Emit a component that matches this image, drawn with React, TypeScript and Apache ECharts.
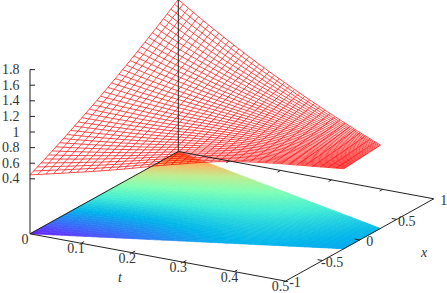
import React, { useEffect, useRef } from "react";
import * as echarts from "echarts";

const N = 40;
const tGrid = [0,.0125,.025,.0375,.05,.0625,.075,.0875,.1,.1125,.125,.1375,.15,.1625,.175,.1875,.2,.2125,.225,.2375,.25,.2625,.275,.2875,.3,.3125,.325,.3375,.35,.3625,.375,.3875,.4,.4125,.425,.4375,.45,.4625,.475,.4875,.5];
const xLow = [-1,-.98,-.961,-.941,-.921,-.902,-.882,-.862,-.843,-.823,-.803,-.784,-.764,-.744,-.725,-.705,-.686,-.666,-.646,-.627,-.607,-.587,-.568,-.548,-.528,-.509,-.489,-.47,-.45,-.43,-.411,-.391,-.371,-.352,-.332,-.312,-.293,-.273,-.253,-.234,-.214];
const xHigh = [1,.982,.964,.946,.928,.91,.892,.874,.856,.838,.82,.802,.784,.766,.748,.73,.712,.694,.676,.658,.641,.623,.605,.587,.569,.551,.533,.515,.497,.479,.461,.443,.425,.407,.389,.371,.353,.335,.317,.299,.281];
const Z = [
[.451,.475,.499,.524,.549,.574,.599,.625,.651,.678,.704,.731,.759,.786,.814,.842,.871,.899,.928,.958,.988,1.017,1.048,1.078,1.109,1.14,1.172,1.204,1.236,1.268,1.301,1.334,1.367,1.401,1.434,1.469,1.503,1.538,1.573,1.608,1.644],
[.46,.483,.507,.531,.555,.579,.603,.628,.654,.679,.704,.731,.758,.784,.811,.838,.866,.894,.922,.95,.978,1.008,1.037,1.067,1.096,1.126,1.157,1.188,1.219,1.25,1.281,1.313,1.346,1.378,1.411,1.443,1.477,1.511,1.545,1.579,1.613],
[.47,.493,.516,.538,.561,.584,.608,.632,.657,.681,.705,.731,.757,.782,.808,.834,.861,.888,.915,.942,.969,.998,1.026,1.055,1.083,1.112,1.142,1.172,1.201,1.231,1.261,1.293,1.324,1.355,1.387,1.418,1.451,1.484,1.516,1.549,1.582],
[.48,.502,.524,.546,.568,.59,.613,.636,.66,.683,.706,.731,.756,.781,.805,.83,.856,.882,.908,.935,.961,.988,1.016,1.043,1.071,1.098,1.127,1.156,1.185,1.214,1.242,1.273,1.303,1.333,1.364,1.394,1.425,1.457,1.489,1.52,1.552],
[.49,.511,.532,.553,.574,.595,.618,.64,.663,.685,.708,.731,.755,.779,.803,.826,.852,.877,.902,.927,.952,.979,1.005,1.032,1.058,1.084,1.112,1.14,1.168,1.196,1.224,1.253,1.282,1.311,1.34,1.369,1.4,1.43,1.461,1.491,1.522],
[.501,.521,.541,.562,.582,.602,.624,.645,.667,.688,.71,.732,.755,.778,.801,.824,.848,.872,.896,.92,.945,.97,.995,1.021,1.046,1.072,1.099,1.125,1.152,1.179,1.206,1.234,1.262,1.29,1.318,1.346,1.375,1.405,1.434,1.464,1.493],
[.512,.531,.551,.57,.59,.609,.63,.65,.671,.691,.712,.734,.756,.778,.8,.822,.845,.868,.891,.914,.938,.962,.987,1.011,1.035,1.06,1.086,1.111,1.137,1.163,1.189,1.216,1.243,1.27,1.297,1.324,1.352,1.38,1.409,1.437,1.465],
[.522,.541,.559,.578,.596,.615,.634,.654,.674,.694,.714,.735,.756,.777,.798,.819,.841,.863,.886,.908,.93,.954,.977,1.001,1.024,1.048,1.072,1.097,1.122,1.146,1.171,1.197,1.223,1.249,1.275,1.301,1.328,1.355,1.383,1.41,1.437],
[.533,.551,.568,.586,.604,.622,.641,.66,.679,.697,.716,.736,.756,.777,.797,.817,.838,.86,.881,.902,.924,.946,.969,.991,1.014,1.036,1.06,1.084,1.107,1.131,1.155,1.18,1.205,1.23,1.254,1.279,1.305,1.332,1.358,1.384,1.41],
[.545,.562,.579,.596,.613,.63,.648,.666,.684,.702,.72,.739,.758,.777,.797,.816,.836,.857,.877,.897,.918,.939,.961,.982,1.004,1.025,1.048,1.071,1.093,1.116,1.139,1.162,1.186,1.21,1.234,1.258,1.283,1.308,1.333,1.358,1.383],
[.557,.573,.589,.605,.621,.637,.654,.672,.689,.706,.723,.742,.76,.778,.797,.815,.834,.854,.873,.893,.912,.933,.953,.974,.994,1.015,1.037,1.058,1.08,1.102,1.123,1.146,1.169,1.192,1.214,1.237,1.261,1.285,1.309,1.333,1.357],
[.57,.585,.6,.616,.631,.646,.662,.679,.695,.711,.728,.745,.763,.78,.797,.815,.833,.852,.87,.889,.907,.927,.946,.966,.985,1.005,1.026,1.046,1.067,1.088,1.108,1.13,1.152,1.174,1.195,1.217,1.24,1.263,1.285,1.308,1.331],
[.583,.597,.612,.626,.641,.655,.67,.686,.701,.717,.732,.749,.765,.782,.798,.814,.832,.849,.867,.884,.902,.921,.939,.958,.976,.995,1.015,1.034,1.054,1.073,1.093,1.114,1.134,1.155,1.176,1.196,1.218,1.24,1.262,1.283,1.305],
[.597,.611,.624,.638,.651,.665,.679,.694,.708,.723,.737,.753,.768,.784,.8,.815,.832,.848,.865,.881,.898,.916,.933,.951,.968,.986,1.005,1.023,1.042,1.06,1.079,1.099,1.118,1.138,1.157,1.177,1.198,1.218,1.239,1.259,1.28],
[.612,.625,.637,.65,.663,.675,.689,.703,.716,.73,.744,.758,.773,.788,.802,.817,.833,.848,.864,.879,.895,.912,.928,.945,.961,.978,.996,1.013,1.031,1.048,1.066,1.084,1.103,1.121,1.14,1.158,1.178,1.197,1.217,1.236,1.256],
[.627,.639,.651,.663,.674,.686,.699,.712,.725,.737,.75,.764,.778,.791,.805,.819,.834,.848,.863,.877,.892,.908,.923,.939,.954,.97,.987,1.003,1.02,1.036,1.053,1.07,1.088,1.105,1.123,1.14,1.158,1.177,1.195,1.214,1.232],
[.643,.654,.665,.676,.687,.698,.71,.722,.734,.746,.758,.77,.783,.796,.809,.822,.835,.849,.863,.876,.89,.905,.919,.934,.948,.963,.979,.994,1.01,1.025,1.041,1.057,1.073,1.09,1.106,1.123,1.14,1.157,1.175,1.192,1.209],
[.655,.665,.676,.686,.696,.706,.717,.728,.74,.751,.762,.774,.786,.798,.81,.822,.835,.847,.86,.873,.886,.9,.913,.927,.941,.955,.969,.984,.998,1.013,1.027,1.043,1.058,1.074,1.089,1.105,1.121,1.137,1.154,1.17,1.186],
[.668,.678,.687,.697,.706,.716,.726,.736,.747,.757,.767,.778,.789,.8,.812,.823,.835,.847,.859,.871,.883,.895,.908,.921,.934,.947,.96,.974,.987,1.001,1.015,1.029,1.043,1.058,1.072,1.087,1.102,1.117,1.133,1.148,1.163],
[.68,.689,.698,.706,.715,.724,.733,.743,.753,.762,.772,.782,.792,.803,.813,.823,.835,.846,.857,.868,.879,.891,.903,.915,.927,.939,.951,.964,.977,.989,1.002,1.016,1.029,1.043,1.056,1.07,1.084,1.098,1.113,1.127,1.141],
[.693,.701,.709,.717,.725,.733,.742,.751,.76,.768,.777,.787,.796,.806,.815,.825,.835,.845,.856,.866,.876,.887,.898,.909,.92,.931,.943,.955,.966,.978,.99,1.003,1.015,1.028,1.04,1.053,1.066,1.079,1.093,1.106,1.119],
[.705,.712,.72,.727,.734,.742,.75,.758,.766,.774,.782,.791,.799,.808,.817,.826,.835,.845,.854,.864,.873,.883,.893,.904,.914,.924,.935,.946,.957,.967,.978,.99,1.002,1.013,1.025,1.036,1.049,1.061,1.073,1.086,1.098],
[.716,.723,.729,.736,.743,.749,.757,.764,.771,.779,.786,.794,.802,.81,.818,.826,.835,.844,.852,.861,.87,.879,.888,.898,.907,.916,.926,.936,.946,.956,.967,.977,.988,.999,1.009,1.02,1.031,1.043,1.054,1.066,1.077],
[.726,.732,.738,.744,.75,.756,.763,.77,.776,.783,.789,.797,.804,.811,.819,.826,.834,.842,.85,.858,.866,.874,.883,.891,.9,.908,.918,.927,.936,.945,.954,.964,.974,.984,.994,1.004,1.014,1.025,1.035,1.046,1.056],
[.735,.74,.746,.751,.757,.762,.768,.774,.78,.786,.792,.799,.805,.812,.819,.825,.833,.84,.847,.854,.862,.869,.877,.885,.893,.901,.909,.918,.926,.934,.943,.952,.961,.97,.979,.988,.998,1.007,1.017,1.026,1.036],
[.74,.745,.75,.755,.76,.765,.77,.776,.781,.787,.792,.798,.804,.81,.816,.822,.829,.836,.842,.849,.856,.863,.87,.877,.884,.891,.899,.907,.915,.922,.93,.938,.947,.955,.963,.972,.981,.989,.998,1.007,1.016],
[.745,.749,.754,.758,.763,.767,.772,.777,.782,.787,.792,.798,.803,.809,.814,.82,.826,.832,.838,.844,.85,.857,.863,.87,.876,.883,.89,.897,.904,.911,.918,.926,.933,.941,.949,.956,.964,.973,.981,.989,.997],
[.748,.752,.756,.76,.764,.768,.773,.777,.782,.786,.791,.796,.801,.806,.811,.816,.822,.827,.833,.838,.844,.849,.855,.861,.867,.874,.88,.887,.893,.9,.906,.913,.92,.927,.934,.941,.948,.956,.963,.971,.978],
[.75,.754,.757,.761,.765,.768,.773,.777,.781,.785,.789,.794,.798,.803,.807,.812,.817,.822,.827,.832,.837,.843,.848,.854,.859,.864,.87,.876,.882,.888,.894,.9,.907,.913,.92,.926,.933,.94,.946,.953,.96],
[.75,.753,.757,.76,.763,.767,.77,.774,.778,.782,.785,.79,.794,.798,.802,.806,.811,.815,.82,.824,.829,.834,.839,.844,.849,.854,.859,.865,.87,.875,.881,.887,.893,.898,.904,.91,.916,.922,.929,.935,.941],
[.75,.753,.756,.759,.762,.765,.768,.772,.775,.779,.782,.786,.79,.793,.797,.801,.805,.809,.813,.817,.822,.826,.831,.835,.84,.844,.849,.854,.859,.864,.869,.874,.879,.885,.89,.895,.9,.906,.912,.917,.923],
[.749,.752,.754,.757,.76,.763,.766,.769,.772,.775,.778,.782,.785,.788,.792,.795,.799,.803,.807,.81,.814,.818,.822,.826,.83,.834,.839,.843,.848,.852,.857,.861,.866,.871,.876,.881,.886,.891,.896,.901,.906],
[.747,.75,.752,.755,.757,.76,.762,.765,.768,.771,.774,.777,.78,.783,.786,.789,.792,.796,.799,.803,.806,.81,.813,.817,.821,.825,.829,.833,.837,.841,.845,.849,.853,.857,.862,.866,.871,.875,.88,.884,.889],
[.744,.746,.749,.751,.753,.755,.758,.76,.763,.765,.768,.771,.774,.776,.779,.782,.785,.788,.791,.794,.798,.801,.804,.808,.811,.814,.818,.821,.825,.829,.832,.836,.84,.844,.848,.851,.856,.86,.864,.868,.872],
[.74,.742,.744,.746,.748,.75,.753,.755,.757,.76,.762,.765,.767,.77,.772,.775,.777,.78,.783,.786,.789,.791,.794,.797,.8,.803,.807,.81,.813,.816,.82,.823,.826,.83,.833,.837,.84,.844,.848,.851,.855],
[.737,.739,.741,.743,.745,.747,.749,.751,.753,.755,.757,.759,.761,.764,.766,.768,.771,.773,.776,.778,.781,.783,.786,.788,.791,.794,.797,.799,.802,.805,.808,.811,.814,.817,.82,.823,.826,.829,.833,.836,.839],
[.733,.735,.736,.738,.74,.742,.744,.745,.747,.749,.751,.753,.755,.757,.759,.761,.763,.766,.768,.77,.772,.774,.777,.779,.781,.784,.786,.789,.791,.794,.796,.799,.801,.804,.807,.809,.812,.815,.817,.82,.823],
[.73,.732,.733,.735,.736,.738,.739,.741,.743,.744,.746,.748,.75,.751,.753,.755,.757,.759,.76,.762,.764,.766,.768,.77,.772,.774,.776,.778,.78,.782,.784,.787,.789,.791,.793,.795,.798,.8,.802,.805,.807],
[.727,.728,.73,.731,.732,.734,.735,.737,.738,.74,.741,.743,.744,.746,.747,.749,.75,.752,.753,.755,.757,.758,.76,.761,.763,.765,.767,.768,.77,.772,.774,.775,.777,.779,.781,.783,.785,.786,.788,.79,.792],
[.724,.725,.726,.728,.729,.73,.731,.733,.734,.735,.736,.738,.739,.74,.741,.743,.744,.745,.746,.748,.749,.75,.752,.753,.754,.756,.757,.758,.76,.761,.763,.764,.765,.767,.768,.77,.771,.773,.774,.776,.777],
[.721,.722,.723,.724,.725,.726,.727,.728,.729,.73,.731,.732,.733,.734,.735,.736,.737,.738,.739,.74,.742,.743,.744,.745,.746,.747,.748,.749,.75,.751,.752,.753,.754,.755,.756,.757,.758,.759,.76,.761,.762],
];
const zTicks = [0.4,0.6,0.8,1,1.2,1.4,1.6,1.8];
const tTicks = [0,0.1,0.2,0.3,0.4,0.5];
const xTicks = [-1,-0.5,0,0.5,1];
const palette = ["#8000ff","#4062fa","#00b4eb","#40ecd4","#80ffb4","#bfec8e","#ffb462","#ff6232","#ff0000"];
const zBase = -0.305;

function project(t: number, x: number, z: number): [number, number] {
  return [30 + (t / 0.5) * 255.5 + ((x + 1) / 2) * 148.3, 233.8 + (t / 0.5) * 47.3 - ((x + 1) / 2) * 82.3 - (z - zBase) * 78];
}
const xAt = (i: number, j: number) => xLow[i] + ((xHigh[i] - xLow[i]) * j) / N;

type Seg = { a: [number, number]; b: [number, number] };
type Lab = { p: [number, number]; s: string; align?: string; italic?: boolean };

export default function App() {
  const ref = useRef<HTMLDivElement>(null);
  useEffect(() => {
    const chart = echarts.init(ref.current!, undefined, { renderer: "svg" });
    const cells: { pts: number[][] }[] = [];
    const means: number[] = [];
    for (let i = 0; i < N; i++) for (let j = 0; j < N; j++) {
      cells.push({ pts: [project(tGrid[i], xAt(i, j), zBase), project(tGrid[i + 1], xAt(i + 1, j), zBase), project(tGrid[i + 1], xAt(i + 1, j + 1), zBase), project(tGrid[i], xAt(i, j + 1), zBase)] });
      means.push((Z[i][j] + Z[i + 1][j] + Z[i + 1][j + 1] + Z[i][j + 1]) / 4);
    }
    const wires: number[][][] = [];
    for (let i = 0; i <= N; i++) { const l: number[][] = []; for (let j = 0; j <= N; j++) l.push(project(tGrid[i], xAt(i, j), Z[i][j])); wires.push(l); }
    for (let j = 0; j <= N; j++) { const l: number[][] = []; for (let i = 0; i <= N; i++) l.push(project(tGrid[i], xAt(i, j), Z[i][j])); wires.push(l); }
    const segs: Seg[] = [];
    const a = project(0, -1, zBase), b = project(0.5, -1, zBase), c = project(0.5, 1, zBase), d = project(0, 1, zBase);
    segs.push({ a, b }, { a: b, b: c }, { a: c, b: d }, { a: d, b: a });
    segs.push({ a, b: project(0, -1, 1.8) });
    segs.push({ a: d, b: project(0, 1, Z[0][N]) });
    zTicks.forEach((z) => { const p = project(0, -1, z); segs.push({ a: p, b: [p[0] + 5, p[1]] }); });
    tTicks.slice(1, 5).forEach((t) => {
      const p = project(t, -1, zBase); const q = project(t, 1, zBase);
      segs.push({ a: p, b: [p[0] + 3, p[1] - 1.7] }); segs.push({ a: q, b: [q[0] - 3, q[1] + 1.7] });
    });
    xTicks.slice(1, 4).forEach((x) => { const p = project(0.5, x, zBase); segs.push({ a: p, b: [p[0] - 5, p[1] - 0.9] }); });
    const labs: Lab[] = [];
    zTicks.forEach((z) => { const p = project(0, -1, z); labs.push({ p: [19.5, p[1]], s: String(z), align: "right" }); });
    tTicks.forEach((t) => { const p = project(t, -1, zBase); labs.push({ p: [p[0] - 5, p[1] + 5.6], s: String(t) }); });
    xTicks.forEach((x) => { const p = project(0.5, x, zBase); labs.push({ p: [p[0] + (x < 0 ? 9.5 : 10), p[1] + 1.8], s: String(x) }); });
    labs.push({ p: [120, 277], s: "t", italic: true }, { p: [424, 252], s: "x", italic: true });

    const co = (api: any, p: number[]) => api.coord(p);
    const base = { type: "custom", coordinateSystem: "cartesian2d", clip: false, silent: true };
    chart.setOption({
      animation: false,
      grid: { left: 0, right: 0, top: 0, bottom: 0 },
      xAxis: { type: "value", min: 0, max: 447, show: false },
      yAxis: { type: "value", min: 0, max: 293, inverse: true, show: false },
      visualMap: { show: false, seriesIndex: 0, dimension: 1, min: 0.4, max: 1.8, inRange: { color: palette } },
      series: [
        { ...base, data: means.map((m, i) => [i, m]), renderItem: (p: any, api: any) => {
            const col = api.visual("color");
            return { type: "polygon", shape: { points: cells[p.dataIndex].pts.map((q) => co(api, q)) }, style: { fill: col, stroke: col, lineWidth: 0.6 } };
          } },
        { ...base, data: wires.map((_, i) => [i, 0]), renderItem: (p: any, api: any) => ({
            type: "polyline", shape: { points: wires[p.dataIndex].map((q) => co(api, q)) }, style: { fill: "none", stroke: "#ff0000", lineWidth: 0.7 } }) },
        { ...base, data: segs.map((_, i) => [i, 0]), renderItem: (p: any, api: any) => {
            const s = segs[p.dataIndex]; const u = co(api, s.a), v = co(api, s.b);
            return { type: "line", shape: { x1: u[0], y1: u[1], x2: v[0], y2: v[1] }, style: { stroke: "#222", lineWidth: 1, fill: "none" } };
          } },
        { ...base, data: labs.map((_, i) => [i, 0]), renderItem: (p: any, api: any) => {
            const l = labs[p.dataIndex]; const u = co(api, l.p);
            return { type: "text", style: { x: u[0], y: u[1], text: l.s, fill: "#333", fontFamily: "Liberation Serif", fontSize: 14, fontStyle: l.italic ? "italic" : "normal", align: l.align || "center", verticalAlign: "middle" } };
          } },
      ],
    });
    return () => chart.dispose();
  }, []);
  return <div ref={ref} style={{ position: "absolute", left: 0, top: 0, width: 447, height: 293 }} />;
}
